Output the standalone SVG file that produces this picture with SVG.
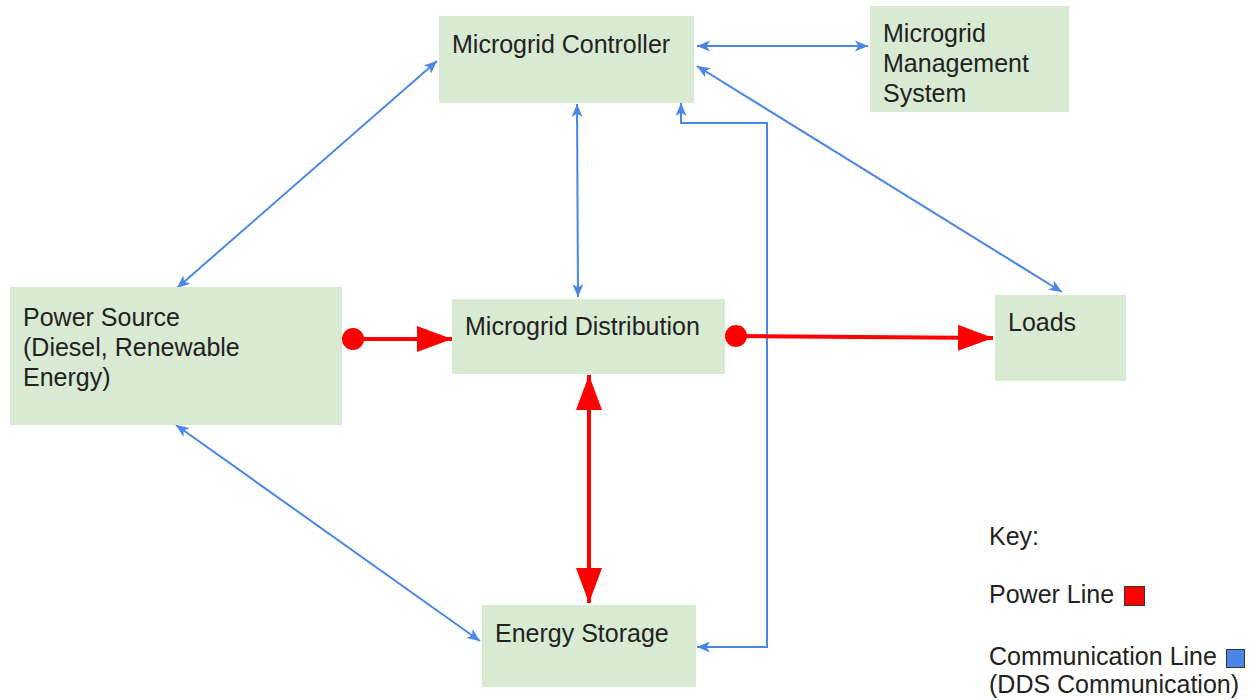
<svg xmlns="http://www.w3.org/2000/svg" width="1255" height="700" viewBox="0 0 1255 700">
<style>
.node{fill:#d9ead3;}
.lbl{font-family:"Liberation Sans",Arial,sans-serif;font-size:25px;fill:#222;}
.comm{fill:none;stroke:#4a86e8;stroke-width:2;}
.pwr{fill:none;stroke:#ff0000;stroke-width:4;}
</style>
<defs>
<marker id="ba" markerUnits="userSpaceOnUse" markerWidth="16" markerHeight="12" refX="13" refY="6" orient="auto-start-reverse" viewBox="0 0 16 12">
<path d="M0,0.5 L13,6 L0,11.5 L3.5,6 Z" fill="#4a86e8"/>
</marker>
<marker id="ra" markerUnits="userSpaceOnUse" markerWidth="36" markerHeight="28" refX="35" refY="14" orient="auto-start-reverse" viewBox="0 0 36 28">
<path d="M0,1 L35,14 L0,27 Z" fill="#ff0000"/>
</marker>
<marker id="rc" markerUnits="userSpaceOnUse" markerWidth="24" markerHeight="24" refX="12" refY="12" orient="auto" viewBox="0 0 24 24">
<circle cx="12" cy="12" r="11" fill="#ff0000"/>
</marker>
</defs>

<g id="connectors">
<line class="comm" x1="697" y1="46" x2="868" y2="46" marker-start="url(#ba)" marker-end="url(#ba)"/>
<line class="comm" x1="437" y1="61" x2="177" y2="288" marker-start="url(#ba)" marker-end="url(#ba)"/>
<line class="comm" x1="577" y1="104" x2="578" y2="297" marker-start="url(#ba)" marker-end="url(#ba)"/>
<line class="comm" x1="697" y1="66" x2="1062" y2="292" marker-start="url(#ba)" marker-end="url(#ba)"/>
<line class="comm" x1="176" y1="425" x2="480" y2="641" marker-start="url(#ba)" marker-end="url(#ba)"/>
<polyline class="comm" points="697,647 767,647 767,123 681,123 681,103" marker-start="url(#ba)" marker-end="url(#ba)"/>
<line class="pwr" x1="353" y1="339" x2="452" y2="339" marker-start="url(#rc)" marker-end="url(#ra)"/>
<line class="pwr" x1="736" y1="336" x2="993" y2="338" marker-start="url(#rc)" marker-end="url(#ra)"/>
<line class="pwr" x1="589" y1="375" x2="589" y2="603" marker-start="url(#ra)" marker-end="url(#ra)"/>
</g>

<g id="microgrid-controller">
<rect class="node" x="439" y="16" width="255" height="87"/>
<text class="lbl" x="452" y="53">Microgrid Controller</text>
</g>
<g id="microgrid-management-system">
<rect class="node" x="870" y="6" width="199" height="106"/>
<text class="lbl" x="883" y="42">Microgrid</text>
<text class="lbl" x="883" y="72">Management</text>
<text class="lbl" x="883" y="102">System</text>
</g>
<g id="power-source">
<rect class="node" x="10" y="287" width="332" height="138"/>
<text class="lbl" x="23" y="326">Power Source</text>
<text class="lbl" x="23" y="356">(Diesel, Renewable</text>
<text class="lbl" x="23" y="386">Energy)</text>
</g>
<g id="microgrid-distribution">
<rect class="node" x="452" y="299" width="273" height="75"/>
<text class="lbl" x="465" y="335">Microgrid Distribution</text>
</g>
<g id="loads">
<rect class="node" x="995" y="295" width="131" height="86"/>
<text class="lbl" x="1008" y="331">Loads</text>
</g>
<g id="energy-storage">
<rect class="node" x="482" y="605" width="214" height="82"/>
<text class="lbl" x="495" y="642">Energy Storage</text>
</g>

<g id="key">
<text class="lbl" x="989" y="545">Key:</text>
<text class="lbl" x="989" y="603">Power Line</text>
<rect x="1124.5" y="586.5" width="20" height="19" fill="#ff0000" stroke="#333" stroke-width="1"/>
<text class="lbl" x="989" y="665">Communication Line</text>
<rect x="1226.5" y="649.5" width="18" height="18" fill="#4a86e8" stroke="#333" stroke-width="1"/>
<text class="lbl" x="989" y="693">(DDS Communication)</text>
</g>
</svg>
